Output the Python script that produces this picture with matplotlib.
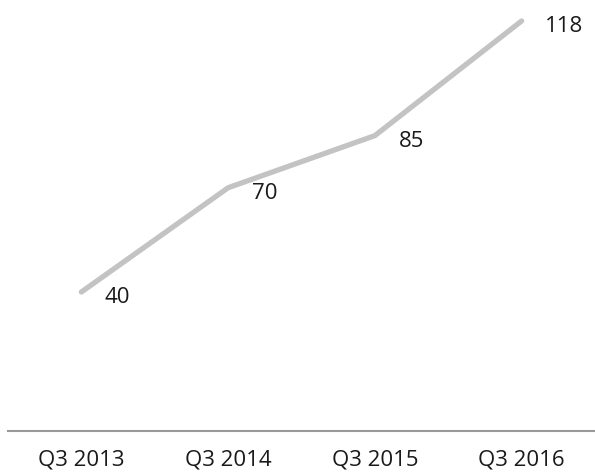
import matplotlib
matplotlib.use("Agg")
import matplotlib.pyplot as plt

categories = ["Q3 2013", "Q3 2014", "Q3 2015", "Q3 2016"]
values = [40, 70, 85, 118]

plt.rcParams['font.family'] = ['Open Sans', 'DejaVu Sans']

fig = plt.figure(figsize=(5.95, 4.72), dpi=100)
ax = fig.add_axes([8 / 595, 1 - 431 / 472, 1 - 8 / 595, 417 / 472])

x = list(range(len(categories)))
ax.plot(x, values, color="#c3c3c3", linewidth=3.8, solid_capstyle="round")

for xi, v in zip(x, values):
    ax.annotate(str(v), (xi, v), xytext=(17, -4), textcoords="offset points",
                ha="left", va="center", fontsize=16, color="#1a1a1a")

ax.set_xlim(-0.5, 3.5)
ax.set_ylim(0, 120)
ax.set_xticks(x)
ax.set_xticklabels(categories, fontsize=16, color="#1a1a1a")
ax.tick_params(axis="x", length=0, pad=13.5)
ax.set_yticks([])
for s in ["top", "right", "left"]:
    ax.spines[s].set_visible(False)
ax.spines["bottom"].set_color("#999999")
ax.spines["bottom"].set_linewidth(1.5)

fig.savefig("out.png", dpi=100)
